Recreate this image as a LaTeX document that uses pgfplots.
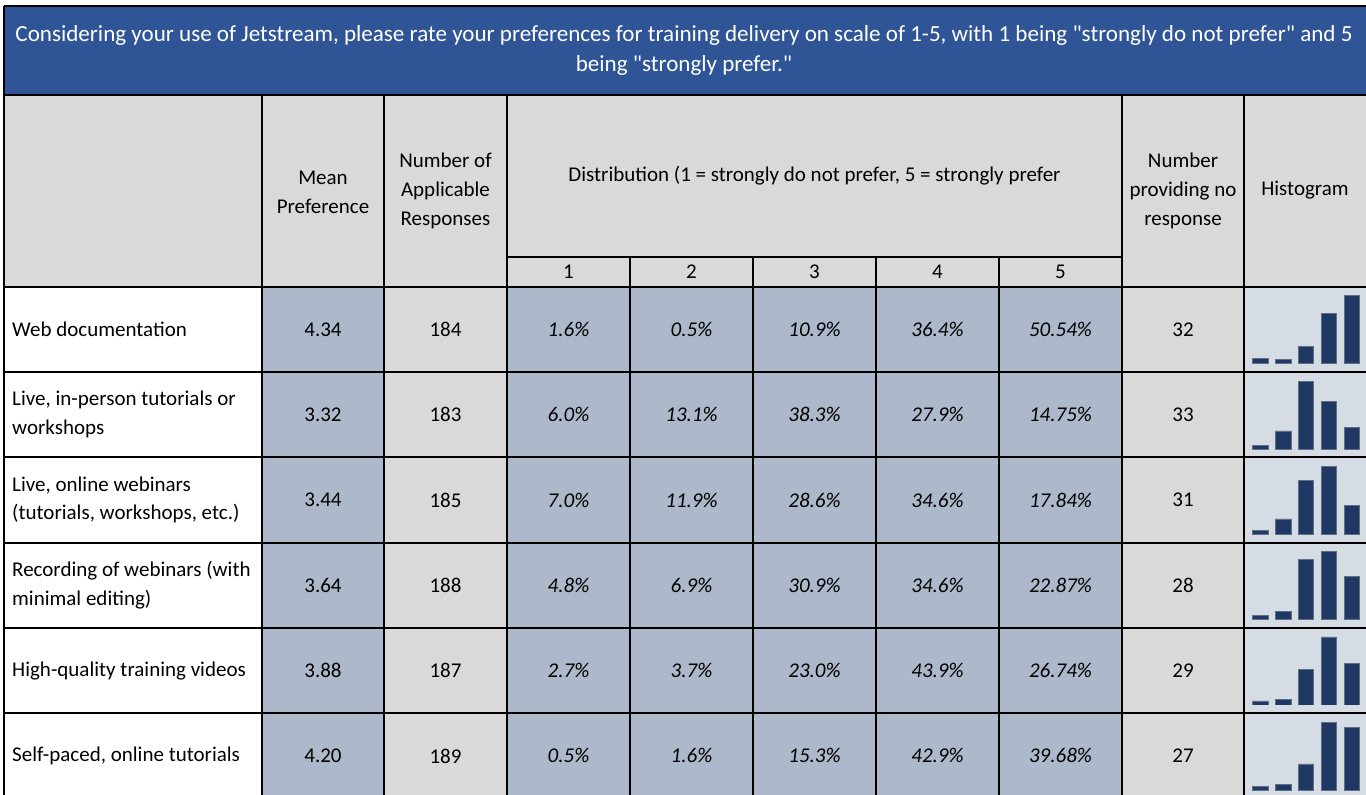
\documentclass[border=0pt]{standalone}
\usepackage{pgfplots}
\pgfplotsset{compat=1.18}
\usepackage{fontspec}
\setmainfont{Carlito}
\newfontfamily\titlefam{Carlito}
\definecolor{titleblue}{RGB}{47,85,151}
\definecolor{hdrgrey}{RGB}{217,217,217}
\definecolor{cellblue}{RGB}{173,185,202}
\definecolor{histbg}{RGB}{214,220,228}
\definecolor{barblue}{RGB}{32,56,100}
\definecolor{baredge}{RGB}{95,110,135}
\pgfplotsset{
 histax/.style={scale only axis, width=85.9pt, height=51pt, xmin=0.5, xmax=5.5,
   hide axis, ybar, bar width=11.6pt, anchor=south west, clip=true},
 rowbase/.style={ymin=#1, y coord trafo/.code={\pgfmathparse{##1-(#1)}}},
 histbar/.style={fill=barblue, draw=baredge, line width=0.5pt},
}
\newcommand{\bodyfont}{\fontsize{15.75pt}{21.5pt}\selectfont}
\newcommand{\titlefont}{\titlefam\fontsize{17.3pt}{22.5pt}\selectfont}
\newcommand\rowA[5]{%
 \node[anchor=west,align=left] at (7.5,#1) {#2};
 \node at (323,#1) {#3};
 \node at (445.5,#1) {#4};
 \node at (1183,#1) {#5};}
\newcommand\rowP[6]{%
 \node at (568.5,#1) {\itshape #2\%};
 \node at (691.5,#1) {\itshape #3\%};
 \node at (814.5,#1) {\itshape #4\%};
 \node at (937.5,#1) {\itshape #5\%};
 \node at (1060.5,#1) {\itshape #6\%};}
\begin{document}
\begin{tikzpicture}
\begin{scope}[x=0.75pt,y=-0.75pt,font=\bodyfont]
\path (0,0) rectangle (1366,795);
\clip (0,0) rectangle (1366,795);
\fill[titleblue] (4,6) rectangle (1366,95);
\fill[hdrgrey] (4,95) rectangle (1366,286.7);
\foreach \t in {286.7,372.0,457.3,542.6,627.9,713.2}{
  \fill[white] (4,\t) rectangle (262,\t+85.3);
  \fill[cellblue] (262,\t) rectangle (384,\t+85.3);
  \fill[hdrgrey] (384,\t) rectangle (507,\t+85.3);
  \fill[cellblue] (507,\t) rectangle (1122,\t+85.3);
  \fill[hdrgrey] (1122,\t) rectangle (1244,\t+85.3);
  \fill[histbg] (1244,\t) rectangle (1366,\t+85.3);
}
\begin{scope}[line width=1.5pt, black]
\draw (4,6) -- (1366,6);
\draw (4,6) -- (4,795);
\draw (4,95) -- (1366,95);
\foreach \t in {286.7,372.0,457.3,542.6,627.9,713.2}{\draw (4,\t) -- (1366,\t);}
\foreach \x in {262,384,507,1122,1244}{\draw (\x,95) -- (\x,795);}
\foreach \x in {630,753,876,999}{\draw (\x,256.7) -- (\x,795);}
\draw (507,256.7) -- (1122,256.7);
\end{scope}
% title
\node[text=white, align=center, font=\titlefont] at (684,50.5)
 {Considering your use of Jetstream, please rate your preferences for training delivery on scale of 1-5, with 1 being "strongly do not prefer" and 5\\being "strongly prefer."};
% headers
\node[align=center] at (323,192.5) {Mean\\Preference};
\node[align=center] at (445.5,191) {Number of\\Applicable\\Responses};
\node at (814.5,176) {Distribution (1 = strongly do not prefer, 5 = strongly prefer};
\node[align=center] at (1183,191) {Number\\providing no\\response};
\node at (1305,190) {Histogram};
\node at (568.5,271.7) {1};
\node at (691.5,271.7) {2};
\node at (814.5,271.7) {3};
\node at (937.5,271.7) {4};
\node at (1060.5,271.7) {5};
% rows
\rowA{329.4}{Web documentation}{4.34}{184}{32}
\rowP{329.4}{1.6}{0.5}{10.9}{36.4}{50.54}
\rowA{414.7}{Live, in-person tutorials or\\workshops}{3.32}{183}{33}
\rowP{414.7}{6.0}{13.1}{38.3}{27.9}{14.75}
\rowA{500.0}{Live, online webinars\\(tutorials, workshops, etc.)}{3.44}{185}{31}
\rowP{500.0}{7.0}{11.9}{28.6}{34.6}{17.84}
\rowA{585.3}{Recording of webinars (with\\minimal editing)}{3.64}{188}{28}
\rowP{585.3}{4.8}{6.9}{30.9}{34.6}{22.87}
\rowA{670.6}{High-quality training videos}{3.88}{187}{29}
\rowP{670.6}{2.7}{3.7}{23.0}{43.9}{26.74}
\rowA{755.9}{Self-paced, online tutorials}{4.20}{189}{27}
\rowP{755.9}{0.5}{1.6}{15.3}{42.9}{39.68}
% histogram anchors
\coordinate (h1) at (1248.8,363.7);
\coordinate (h2) at (1248.8,449.0);
\coordinate (h3) at (1248.8,534.3);
\coordinate (h4) at (1248.8,619.6);
\coordinate (h5) at (1248.8,704.9);
\coordinate (h6) at (1248.8,790.2);
\end{scope}
\begin{axis}[histax, at={(h1)}, rowbase=-2.63, ymax=50.54]
\addplot[histbar] coordinates {(1,1.6) (2,0.5) (3,10.9) (4,36.4) (5,50.54)};
\end{axis}
\begin{axis}[histax, at={(h2)}, rowbase=3.98, ymax=38.3]
\addplot[histbar] coordinates {(1,6.0) (2,13.1) (3,38.3) (4,27.9) (5,14.75)};
\end{axis}
\begin{axis}[histax, at={(h3)}, rowbase=5.275, ymax=34.6]
\addplot[histbar] coordinates {(1,7.0) (2,11.9) (3,28.6) (4,34.6) (5,17.84)};
\end{axis}
\begin{axis}[histax, at={(h4)}, rowbase=2.94, ymax=34.6]
\addplot[histbar] coordinates {(1,4.8) (2,6.9) (3,30.9) (4,34.6) (5,22.87)};
\end{axis}
\begin{axis}[histax, at={(h5)}, rowbase=0.125, ymax=43.9]
\addplot[histbar] coordinates {(1,2.7) (2,3.7) (3,23.0) (4,43.9) (5,26.74)};
\end{axis}
\begin{axis}[histax, at={(h6)}, rowbase=-2.15, ymax=42.9]
\addplot[histbar] coordinates {(1,0.5) (2,1.6) (3,15.3) (4,42.9) (5,39.68)};
\end{axis}
\end{tikzpicture}
\end{document}
